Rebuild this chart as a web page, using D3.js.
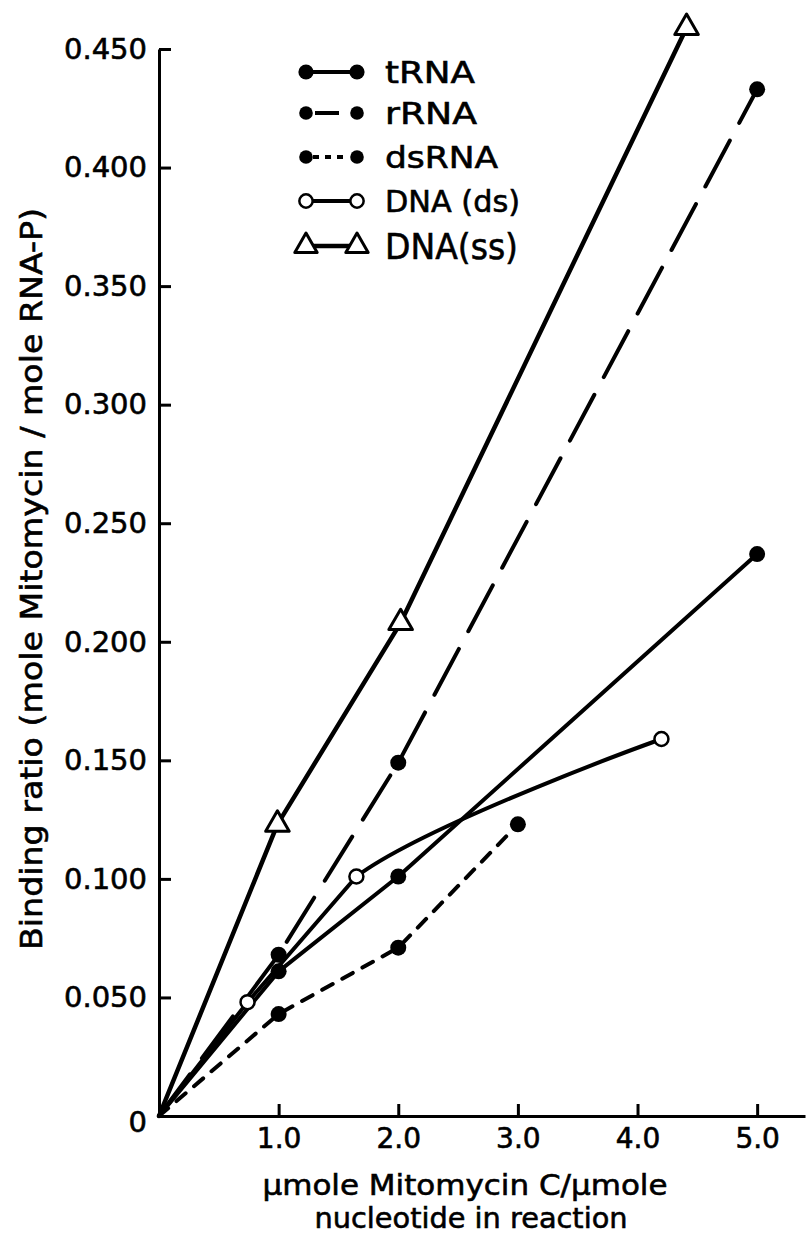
<!DOCTYPE html>
<html>
<head>
<meta charset="utf-8">
<script src="https://cdn.jsdelivr.net/npm/d3@7"></script>
<style>
  html, body { margin: 0; padding: 0; background: #fff; }
  svg { display: block; }
  text { font-family: "DejaVu Sans", "Liberation Sans", sans-serif; fill: #000; stroke: #000; stroke-width: 0.6px; }
</style>
</head>
<body>
<svg id="chart" width="807" height="1254"></svg>
<script>
// Binding ratio of Mitomycin C to nucleic acids vs. drug/nucleotide ratio
const xTicks = [1, 2, 3, 4, 5];
const yTicks = [0, 0.05, 0.10, 0.15, 0.20, 0.25, 0.30, 0.35, 0.40, 0.45];

const tRNAx = [0, 1.0, 2.0, 5.0];
const tRNAy = [0, 0.061, 0.101, 0.237];

const rRNAx = [0, 1.0, 2.0, 5.0];
const rRNAy = [0, 0.068, 0.149, 0.433];

const dsRNAx = [0, 1.0, 2.0, 3.0];
const dsRNAy = [0, 0.043, 0.071, 0.123];

const dnaDsX = [0, 0.74, 1.65, 4.2];
const dnaDsY = [0, 0.048, 0.101, 0.159];

const dnaSsX = [0, 0.99, 2.02, 4.41];
const dnaSsY = [0, 0.123, 0.208, 0.459];

const seriesNames = ["tRNA", "rRNA", "dsRNA", "DNA (ds)", "DNA(ss)"];

const svg = d3.select("#chart");

const x = d3.scaleLinear().domain([0, 5.4]).range([159, 805]);
const y = d3.scaleLinear().domain([0, 0.45]).range([1116, 49]);

const zip = (xs, ys) => xs.map((v, i) => ({ x: v, y: ys[i] }));

// smooth: index from which the line becomes a smooth curve (null = straight throughout)
const series = [
  { name: seriesNames[0], pts: zip(tRNAx, tRNAy), dash: null, marker: "dot", width: 4, smooth: null,
    legendDash: null },
  { name: seriesNames[1], pts: zip(rRNAx, rRNAy), dash: "52,20", marker: "dot", width: 4, smooth: null,
    legendDash: "0,9,24,100" },
  { name: seriesNames[2], pts: zip(dsRNAx, dsRNAy), dash: "12,11", marker: "dot", width: 4, smooth: null,
    legendDash: "0,7,6,6,6,6,6,100" },
  { name: seriesNames[3], pts: zip(dnaDsX, dnaDsY), dash: null, marker: "circle", width: 4, smooth: 2,
    legendDash: null },
  { name: seriesNames[4], pts: zip(dnaSsX, dnaSsY), dash: null, marker: "triangle", width: 4.5, smooth: null,
    legendDash: null }
];

// Axes with inward ticks
const yAxis = d3.axisLeft(y)
  .tickValues(yTicks)
  .tickSizeInner(-12)
  .tickSizeOuter(0)
  .tickPadding(12)
  .tickFormat(d => d === 0 ? "0" : d3.format(".3f")(d));

const xAxis = d3.axisBottom(x)
  .tickValues(xTicks)
  .tickSizeInner(-12)
  .tickSizeOuter(0)
  .tickPadding(12)
  .tickFormat(d3.format(".1f"));

const gy = svg.append("g").attr("transform", `translate(${x(0)},0)`).call(yAxis);
const gx = svg.append("g").attr("transform", `translate(0,${y(0)})`).call(xAxis);

[gx, gy].forEach(g => {
  g.selectAll(".domain").attr("stroke", "#000").attr("stroke-width", 3);
  g.selectAll(".tick line").attr("stroke", "#000").attr("stroke-width", 3);
  g.selectAll(".tick text")
    .style("font-family", '"DejaVu Sans", sans-serif')
    .attr("fill", "#000");
});
gy.selectAll(".tick text").attr("font-size", 29);
gx.selectAll(".tick text").attr("font-size", 28);
gy.selectAll(".tick text").filter(d => d === 0).attr("dy", "0.55em");

// Series lines
const defs = svg.append("defs");
series.forEach((s, i) => {
  const style = p => p
    .attr("fill", "none")
    .attr("stroke", "#000")
    .attr("stroke-width", s.width)
    .attr("stroke-linecap", "round")
    .attr("stroke-linejoin", "round")
    .attr("stroke-dasharray", s.dash);

  const straight = d3.line().x(d => x(d.x)).y(d => y(d.y));
  if (s.smooth === null) {
    svg.append("path").datum(s.pts).attr("d", straight).call(style);
  } else {
    // straight part up to the bend point, then a smooth curve beyond it
    const k = s.smooth;
    svg.append("path").datum(s.pts.slice(0, k + 1)).attr("d", straight).call(style);
    const clipId = "clip-" + i;
    defs.append("clipPath").attr("id", clipId)
      .append("rect")
      .attr("x", x(s.pts[k].x)).attr("y", 0)
      .attr("width", 807 - x(s.pts[k].x)).attr("height", 1254);
    const smoothLine = d3.line().x(d => x(d.x)).y(d => y(d.y)).curve(d3.curveCatmullRom.alpha(0.5));
    svg.append("path").datum(s.pts.slice(k - 1))
      .attr("d", smoothLine)
      .attr("clip-path", `url(#${clipId})`)
      .call(style);
  }
});

function drawMarker(g, type, cx, cy, scale) {
  const k = scale || 1;
  if (type === "dot") {
    g.append("circle").attr("cx", cx).attr("cy", cy).attr("r", 8 * k).attr("fill", "#000");
  } else if (type === "circle") {
    g.append("circle").attr("cx", cx).attr("cy", cy).attr("r", 7 * k)
      .attr("fill", "#fff").attr("stroke", "#000").attr("stroke-width", 2.5);
  } else {
    g.append("path")
      .attr("d", d3.symbol().type(d3.symbolTriangle).size(240 * k * k)())
      .attr("transform", `translate(${cx},${cy})`)
      .attr("fill", "#fff").attr("stroke", "#000").attr("stroke-width", 3)
      .attr("stroke-linejoin", "round");
  }
}

// Data markers (no marker at origin)
const gm = svg.append("g");
series.forEach(s => {
  s.pts.filter(p => p.x > 0).forEach(p => drawMarker(gm, s.marker, x(p.x), y(p.y)));
});

// Legend
const legendRows = [72, 113, 157, 201, 246];
const legendX1 = 306, legendX2 = 357, legendTextX = 385;
const legendWidths = [90, 92, 113, 135, 133];
const legendSizes = [30, 30, 30, 30, 35];
const gl = svg.append("g");
series.forEach((s, i) => {
  const ly = legendRows[i];
  gl.append("line")
    .attr("x1", legendX1).attr("x2", legendX2)
    .attr("y1", ly).attr("y2", ly)
    .attr("stroke", "#000").attr("stroke-width", s.width)
    .attr("stroke-dasharray", s.legendDash);
  const sc = i === 1 || i === 2 ? 0.85 : (i === 4 ? 0.95 : 0.95);
  drawMarker(gl, s.marker, legendX1, ly, sc);
  drawMarker(gl, s.marker, legendX2, ly, sc);
  gl.append("text")
    .attr("x", legendTextX).attr("y", ly)
    .attr("dy", "0.36em")
    .attr("font-size", legendSizes[i])
    .attr("textLength", legendWidths[i])
    .attr("lengthAdjust", "spacingAndGlyphs")
    .text(s.name);
});

// Axis titles
svg.append("text")
  .attr("transform", "translate(42,579) rotate(-90)")
  .attr("text-anchor", "middle")
  .attr("font-size", 31)
  .attr("textLength", 742)
  .attr("lengthAdjust", "spacingAndGlyphs")
  .text("Binding ratio (mole Mitomycin / mole RNA-P)");

svg.append("text")
  .attr("x", 465).attr("y", 1195)
  .attr("text-anchor", "middle")
  .attr("font-size", 29)
  .attr("textLength", 405)
  .attr("lengthAdjust", "spacingAndGlyphs")
  .text("\u03bcmole Mitomycin C/\u03bcmole");

svg.append("text")
  .attr("x", 471).attr("y", 1228)
  .attr("text-anchor", "middle")
  .attr("font-size", 29)
  .attr("textLength", 313)
  .attr("lengthAdjust", "spacingAndGlyphs")
  .text("nucleotide in reaction");
</script>
</body>
</html>
